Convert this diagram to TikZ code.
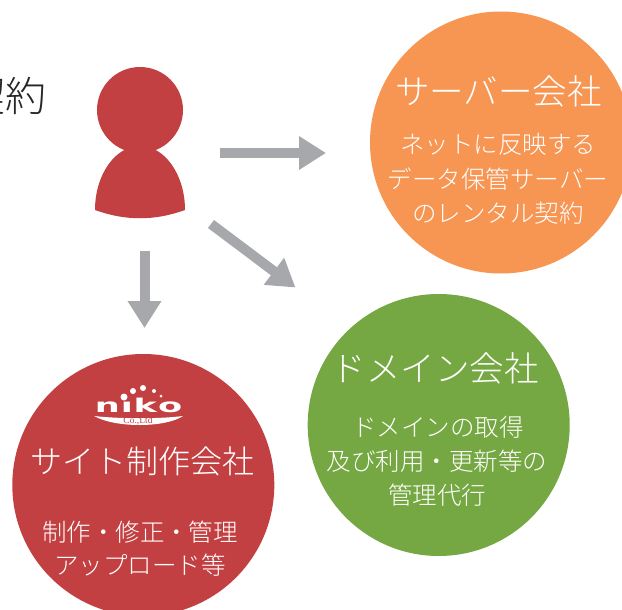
\documentclass[tikz,border=0pt]{standalone}
\usepackage{fontspec}
\usetikzlibrary{arrows.meta}
\newfontfamily\cjk[UprightFont=* Light]{Noto Sans CJK JP}
\newfontfamily\logofont{DejaVu Sans}
\newfontfamily\logoserif{Liberation Serif}
\definecolor{redc}{HTML}{C34042}
\definecolor{orangec}{HTML}{F79552}
\definecolor{greenc}{HTML}{75A842}
\definecolor{arrowc}{HTML}{A7A8AB}
\tikzset{
  disc/.style={circle,minimum size=262pt,inner sep=0pt,draw=none},
  ttl/.style={text=white,font=\cjk\fontsize{34.5}{34.5}\selectfont,inner sep=0pt},
  bdy/.style={text=white,font=\cjk\fontsize{24.5}{24.5}\selectfont,inner sep=0pt},
  blockarrow/.style={draw=arrowc,line width=10pt,-{Triangle[length=27pt,width=32pt]}},
}
\begin{document}
\begin{tikzpicture}[x=1pt,y=-1pt]
\useasboundingbox (0,0) rectangle (622,610);
\clip (0,0) rectangle (622,610);
\node[disc,fill=orangec] (server) at (501,142.5) {};
\node[disc,fill=greenc] (domain) at (438.7,425) {};
\node[disc,fill=redc] (site) at (143.3,485) {};
\node[anchor=east,inner sep=0pt,text=black!85,font=\cjk\fontsize{41}{41}\selectfont] (keiyaku) at (46.5,96) {契約};
% person
\fill[redc] (140,110) circle (43);
\fill[redc] (95,210) .. controls (95,175) and (115,146) .. (140,146) .. controls (165,146) and (185,175) .. (185,210)
  .. controls (155,221) and (125,221) .. (95,210) -- cycle;
% arrows
\coordinate (a1s) at (220,153); \coordinate (a1e) at (326,153);
\coordinate (a2s) at (144.5,250.5); \coordinate (a2e) at (144.5,328);
\coordinate (a3s) at (211,224); \coordinate (a3e) at (295.5,287.5);
\draw[blockarrow] (a1s) -- (a1e);
\draw[blockarrow] (a2s) -- (a2e);
\draw[blockarrow] (a3s) -- (a3e);
% server
\node[ttl] (t1) at (498.5,91) {サーバー会社};
\node[bdy] (b11) at (498,144) {ネットに反映する};
\node[bdy] (b12) at (498,179) {データ保管サーバー};
\node[bdy] (b13) at (498,213) {のレンタル契約};
% domain
\node[ttl] (t2) at (435,368) {ドメイン会社};
\node[bdy] (b21) at (438,427) {ドメインの取得};
\node[bdy] (b22) at (437,461) {及び利用・更新等の};
\node[bdy] (b23) at (437,495) {管理代行};
% site
\node[ttl,font=\cjk\fontsize{32}{32}\selectfont] (t3) at (142.5,461) {サイト制作会社};
\node[bdy] (b31) at (140,532) {制作・修正・管理};
\node[bdy] (b32) at (140,565) {アップロード等};
% logo
\node[inner sep=0pt,text=white] (logo) at (138.5,405) {\logofont\bfseries\fontsize{19}{19}\selectfont\scalebox{1.85}[1]{n\hspace{0.5pt}ı\hspace{0.5pt}k\hspace{0.5pt}o}};
\fill[white] (94,416) .. controls (120,419) and (160,419) .. (183,416) .. controls (165,428) and (115,428) .. (94,416) -- cycle;
\node[inner sep=0pt,text=redc,font=\logoserif\fontsize{9.5}{9.5}\selectfont] (coltd) at (138,421) {Co.,Ltd};
\fill[white] (124,397) circle (3.5) (133,391) circle (3) (143,388) circle (3) (154,391) circle (2) (161,396) circle (1.5);
\end{tikzpicture}
\end{document}
